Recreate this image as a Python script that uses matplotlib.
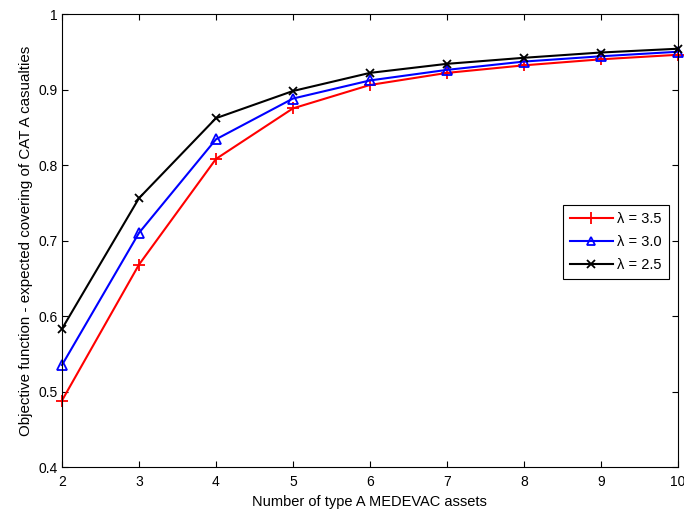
import matplotlib
matplotlib.use("Agg")
import matplotlib.pyplot as plt

plt.rcParams["font.family"] = ["Liberation Sans", "DejaVu Sans"]

assets = [2, 3, 4, 5, 6, 7, 8, 9, 10]
lam_35 = [0.488, 0.668, 0.808, 0.875, 0.906, 0.922, 0.932, 0.940, 0.946]
lam_30 = [0.535, 0.710, 0.834, 0.888, 0.912, 0.926, 0.937, 0.944, 0.950]
lam_25 = [0.583, 0.756, 0.862, 0.898, 0.922, 0.934, 0.942, 0.949, 0.954]

fig = plt.figure(figsize=(6.84, 5.15), dpi=100)
ax = fig.add_axes([0.0906, 0.0932, 0.9004, 0.8796])

ax.plot(assets, lam_35, color="red", marker="+", markersize=9, mew=1.3, lw=1.5, label="λ = 3.5", clip_on=False)
ax.plot(assets, lam_30, color="blue", marker="^", markersize=7, mfc="none", mew=1.3, lw=1.5, label="λ = 3.0",
        clip_on=False)
ax.plot(assets, lam_25, color="black", marker="x", markersize=6, mew=1.3, lw=1.5, label="λ = 2.5", clip_on=False)

ax.set_xlim(2, 10)
ax.set_ylim(0.4, 1.0)
ax.set_xticks(range(2, 11))
ax.set_yticks([0.4, 0.5, 0.6, 0.7, 0.8, 0.9, 1.0])
ax.set_yticklabels(["0.4", "0.5", "0.6", "0.7", "0.8", "0.9", "1"])
ax.tick_params(direction="in", labelsize=10, top=True, right=True, length=4)
ax.tick_params(axis="x", pad=6)
ax.tick_params(axis="y", pad=3)
ax.set_xlabel("Number of type A MEDEVAC assets", fontsize=10.5, labelpad=4)
ax.set_ylabel("Objective function - expected covering of CAT A casualties", fontsize=10.9, labelpad=4)

leg = ax.legend(loc="upper left", bbox_to_anchor=(563 / 684, 1 - 205 / 515), bbox_transform=fig.transFigure,
                fontsize=10.5, fancybox=False, edgecolor="black", framealpha=1, handlelength=2.9,
                borderpad=0.5, labelspacing=0.6, borderaxespad=0, handletextpad=0.3, markerscale=0.9)
leg.get_frame().set_linewidth(0.8)

fig.savefig("out.png", dpi=100)
